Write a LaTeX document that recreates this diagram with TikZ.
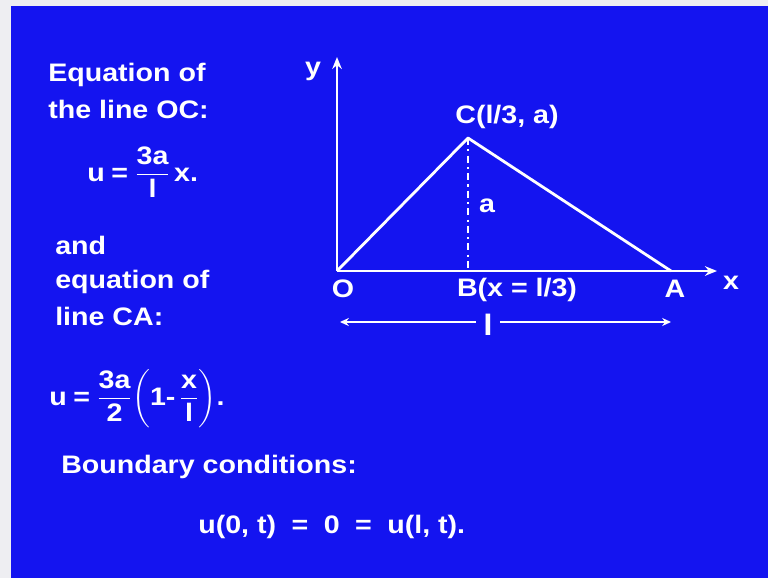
\documentclass[tikz,border=0pt]{standalone}
\usepackage{amsmath}
\usepackage{fontspec}
\setmainfont{Liberation Sans}[FakeStretch=1.13]
\usetikzlibrary{arrows.meta,positioning}
\definecolor{slide}{HTML}{1414F0}
\definecolor{sframe}{HTML}{EEEEF2}
\tikzset{
  % white bold slide text
  txt/.style  = {font=\bfseries\fontsize{18}{21}\selectfont, text=white, inner sep=0pt},
  lbl/.style  = {font=\bfseries\fontsize{18}{21}\selectfont, text=white, inner sep=0pt},
  axis/.style = {-{Stealth[length=3mm,width=2.4mm]}, line width=2pt, white},
  prof/.style = {line width=2pt, white, line join=round},
  drop/.style = {line width=1.5pt, white, dash pattern=on 5pt off 3pt on 1.5pt off 3pt},
  dim/.style  = {line width=1.5pt, white},
}
\newcommand{\tf}[2]{\dfrac{\text{#1}}{\text{#2}}}

\begin{document}
\begin{tikzpicture}[x=0.025cm,y=-0.025cm]
% slide background
\fill[sframe] (0,0) rectangle (768,578);
\fill[slide] (11,6) rectangle (768,578);
\useasboundingbox (0,0) rectangle (768,578);
% left column
\node[txt, anchor=base west] (eqa) at (48,82) {Equation of};
\node[txt, anchor=base west] (eqb) at (48,118) {the line OC:};
\node[txt, anchor=base west] (uoc) at (87,181) {$\text{u}\mathrel{\text{=}}\tf{3a}{l}\,\text{x.}$};
\node[txt, anchor=base west] (und) at (55,254) {and};
\node[txt, anchor=base west] (eqc) at (55,288) {equation of};
\node[txt, anchor=base west] (eqd) at (55,325) {line CA:};
\node[txt, anchor=base west] (uca) at (49,405) {$\text{u}\mathrel{\text{=}}\tf{3a}{2}\!\left(\rule[-12pt]{0pt}{36pt}\text{1-}\,\tf{x}{l}\right)\!\text{.}$};
\node[txt, anchor=base west] (bnd) at (61,473) {Boundary conditions:};
\node[txt, anchor=base west] (bcs) at (198,533) {u(0, t)\hspace{11pt}=\hspace{11pt}0\hspace{11pt}=\hspace{11pt}u(l, t).};
% profile
\coordinate (O) at (337,271);
\coordinate (C) at (468,138);
\coordinate (A) at (671,271);
\coordinate (B) at (468,271);
\coordinate (ytip) at (337,57);
\coordinate (xtip) at (717,271);
\draw[axis] (O) -- (ytip);
\draw[axis] (O) -- (xtip);
\draw[drop] (C) -- (B);
\draw[prof] (O) -- (C) -- (A);
\node[lbl] (ylab) at (313,71) {y};
\node[lbl] (xlab) at (731,283) {x};
\node[lbl] (Olab) at (343,289) {O};
\node[lbl] (Blab) at (517,290) {B(x = l/3)};
\node[lbl] (Alab) at (675,289) {A};
\node[lbl] (Clab) at (507,117) {C(l/3, a)};
\node[lbl] (alab) at (487,206) {a};
% span
\coordinate (sl) at (340,322);
\coordinate (sr) at (671,322);
\node[lbl, inner sep=5pt, font=\bfseries\fontsize{21}{23}\selectfont] (len) at (488,325) {l};
\draw[dim, {Stealth[length=2.2mm,width=2mm]}-] (sl) -- (len.west |- sl);
\draw[dim, -{Stealth[length=2.2mm,width=2mm]}] (len.east |- sr) -- (sr);
\end{tikzpicture}
\end{document}
